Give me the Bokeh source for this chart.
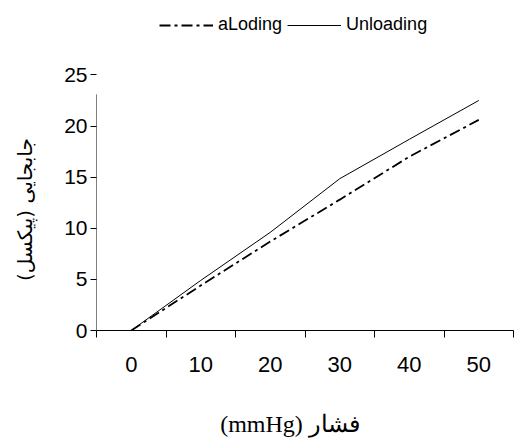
from bokeh.plotting import figure
from bokeh.models import FixedTicker, Range1d, Legend, LegendItem, ColumnDataSource
from bokeh.embed import file_html
from bokeh.resources import INLINE

# ---- data ----
pressure_labels = ["0", "10", "20", "30", "40", "50"]
loading = [0, 4.4, 8.7, 12.8, 17.0, 20.6]
unloading = [0, 4.9, 9.6, 14.85, 18.7, 22.5]
y_ticks = [0, 5, 10, 15, 20, 25]
y_axis_top = 23.1

idx = list(range(len(pressure_labels)))

# plot area extended upward so the legend sits inside it (above the 25 tick)
p = figure(width=514, height=439, output_backend="svg", toolbar_location=None,
           title_location=None,
           x_range=Range1d(-0.5, len(pressure_labels) - 0.5), y_range=Range1d(0, 32.28),
           min_border_left=96, min_border_right=1, min_border_top=0, min_border_bottom=109)
p.xgrid.visible = False
p.ygrid.visible = False
p.outline_line_color = None
p.background_fill_color = "white"
p.border_fill_color = "white"

src = ColumnDataSource(dict(x=idx, lo=loading, un=unloading))
r_lo = p.line("x", "lo", source=src, line_color="black", line_width=1.8, line_dash="11 4 3 4")
r_un = p.line("x", "un", source=src, line_color="black", line_width=1)

# y axis line that stops short of the top (as in the reference)
p.segment(x0=[-0.5], y0=[0], x1=[-0.5], y1=[y_axis_top], line_color="black", line_width=1)

# x axis: labels at category centres, ticks at boundaries
xa = p.xaxis[0]
xa.ticker = FixedTicker(ticks=idx, minor_ticks=[i - 0.5 for i in range(len(idx) + 1)])
xa.major_label_overrides = {i: lab for i, lab in enumerate(pressure_labels)}
xa.major_tick_out = 0
xa.major_tick_in = 0
xa.minor_tick_out = 7
xa.minor_tick_in = 0
xa.major_label_standoff = 19
xa.major_label_text_font = "Liberation Sans"
xa.major_label_text_font_size = "22px"
xa.major_label_text_color = "black"
xa.axis_line_color = "black"
xa.axis_label = "(mmHg) فشار\u2003\u2005"
xa.axis_label_text_font = "Liberation Serif"
xa.axis_label_text_font_size = "24px"
xa.axis_label_text_font_style = "normal"
xa.axis_label_text_color = "black"
xa.axis_label_standoff = 36

ya = p.yaxis[0]
ya.ticker = FixedTicker(ticks=y_ticks, minor_ticks=[])
ya.axis_line_color = None
ya.major_tick_out = 6
ya.major_tick_in = 0
ya.major_label_standoff = 3
ya.major_label_text_font = "Liberation Sans"
ya.major_label_text_font_size = "21px"
ya.major_label_text_color = "black"
ya.axis_label = "جابجایی (پیکسل)\u200f" + "\u2003" * 4 + "\u2005\u2006"
ya.axis_label_text_font = "DejaVu Sans"
ya.axis_label_text_font_size = "20px"
ya.axis_label_text_font_style = "normal"
ya.axis_label_text_color = "black"
ya.axis_label_standoff = 24

legend = Legend(items=[LegendItem(label="aLoding", renderers=[r_lo]),
                       LegendItem(label="Unloading", renderers=[r_un])],
                orientation="horizontal", location=(63, 295),
                glyph_width=54, glyph_height=20, label_height=20,
                label_standoff=5, spacing=5, padding=0, margin=0,
                border_line_color=None, background_fill_alpha=0,
                label_text_font="Liberation Sans", label_text_font_size="18px",
                label_text_color="black")
p.add_layout(legend, "center")

open("out.html", "w").write(file_html(p, INLINE))
